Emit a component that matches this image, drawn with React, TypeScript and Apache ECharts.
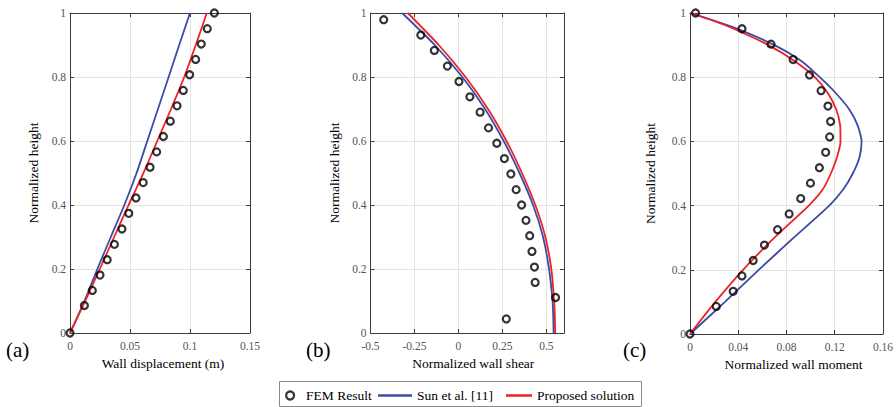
import React, { useEffect, useRef } from "react";
import * as echarts from "echarts";

// ---------- data ----------
// FEM node heights (normalized)
const femHeight = [0, 0.086, 0.133, 0.181, 0.229, 0.277, 0.325, 0.374, 0.422, 0.470, 0.518, 0.566, 0.614, 0.662, 0.710, 0.758, 0.807, 0.855, 0.903, 0.951, 1.0];
// (a) wall displacement (m)
const femDisp = [0, 0.0120, 0.0186, 0.025, 0.031, 0.037, 0.0433, 0.049, 0.055, 0.061, 0.0667, 0.0722, 0.0778, 0.0836, 0.0892, 0.0944, 0.0997, 0.1047, 0.1094, 0.1144, 0.1203];
const dispHeight = [0, 0.1, 0.2, 0.3, 0.4, 0.5, 0.6, 0.7, 0.8, 0.9, 1.0];
const sunDisp = [0, 0.0121, 0.0228, 0.034, 0.0453, 0.0555, 0.0644, 0.0733, 0.0822, 0.091, 0.100];
const propDisp = [0, 0.0126, 0.0248, 0.0368, 0.0488, 0.0612, 0.0727, 0.0842, 0.0952, 0.1048, 0.1140];

// (b) normalized wall shear (FEM at element mid-heights)
const femShearHeight = [0.044, 0.111, 0.158, 0.206, 0.255, 0.304, 0.352, 0.400, 0.448, 0.497, 0.545, 0.593, 0.641, 0.690, 0.738, 0.786, 0.834, 0.883, 0.931, 0.979];
const femShear = [0.272, 0.552, 0.436, 0.432, 0.418, 0.405, 0.384, 0.359, 0.328, 0.298, 0.261, 0.218, 0.171, 0.123, 0.065, 0.003, -0.063, -0.137, -0.214, -0.425];
const shearHeight = [0, 0.05, 0.1, 0.2, 0.3, 0.4, 0.5, 0.6, 0.7, 0.8, 0.9, 1.0];
const sunShear = [0.541, 0.539, 0.535, 0.515, 0.481, 0.424, 0.347, 0.257, 0.151, 0.022, -0.135, -0.320];
const propShear = [0.550, 0.548, 0.544, 0.528, 0.494, 0.437, 0.361, 0.273, 0.168, 0.040, -0.112, -0.288];

// (c) normalized wall moment
const femMoment = [0, 0.0218, 0.0358, 0.0431, 0.0524, 0.0617, 0.0726, 0.0822, 0.0918, 0.0999, 0.1073, 0.1125, 0.1158, 0.1166, 0.1144, 0.1087, 0.0991, 0.0855, 0.0672, 0.0431, 0.0046];
const momentHeight = [0, 0.1, 0.2, 0.3, 0.4, 0.45, 0.5, 0.55, 0.6, 0.65, 0.7, 0.75, 0.8, 0.85, 0.9, 0.95, 0.975, 1.0];
const sunMoment = [0, 0.029, 0.057, 0.086, 0.1155, 0.127, 0.135, 0.1405, 0.1423, 0.139, 0.132, 0.121, 0.1076, 0.0926, 0.070, 0.040, 0.021, 0];
const propMoment = [0, 0.021, 0.044, 0.070, 0.0985, 0.110, 0.1168, 0.1218, 0.1248, 0.1245, 0.1212, 0.1144, 0.1035, 0.087, 0.065, 0.0366, 0.020, 0];

const panelLabels = ["(a)", "(b)", "(c)"];
const xTitles = ["Wall displacement (m)", "Normalized wall shear", "Normalized wall moment"];
const yTitle = "Normalized height";
const legendNames = ["FEM Result", "Sun et al. [11]", "Proposed solution"];

const FONT = "Liberation Serif, serif";
const BLUE = "#3a4ca6";
const RED = "#ee2128";
const AXIS = "#3c3c3c";

const pairs = (xs: number[], ys: number[]) => xs.map((x, i) => [x, ys[i]]);

export default function App() {
  const ref = useRef<HTMLDivElement>(null);
  useEffect(() => {
    if (!ref.current) return;
    const chart = echarts.init(ref.current, null, { renderer: "svg" });

    const grids = [
      { left: 70, top: 13, width: 180, height: 320 },
      { left: 370.5, top: 13, width: 193.5, height: 320 },
      { left: 690, top: 13, width: 195.5, height: 321 },
    ];
    const xRanges = [
      { min: 0, max: 0.15, interval: 0.05 },
      { min: -0.5, max: 0.6, interval: 0.25 },
      { min: 0, max: 0.16, interval: 0.04 },
    ];
    const xTitleShift = [6, 12, 14];
    const yNameGap = [30, 29, 33];

    const tickCommon = { inside: true, length: 4, lineStyle: { color: AXIS, width: 1 } };
    const lineCommon = { show: true, onZero: false, lineStyle: { color: AXIS, width: 1 } };

    const xAxis: any[] = [];
    const yAxis: any[] = [];
    grids.forEach((g, i) => {
      xAxis.push({
        type: "value",
        gridIndex: i,
        position: "bottom",
        ...xRanges[i],
        axisLine: lineCommon,
        axisTick: tickCommon,
        splitLine: { show: true, lineStyle: { color: "#e4e4e4", width: 1 } },
        axisLabel: {
          color: "#555",
          fontFamily: FONT,
          fontSize: 11.5,
          margin: 7,
          showMaxLabel: i === 1 ? false : true,
        },
        name: xTitles[i],
        nameLocation: "middle",
        nameGap: 21,
        nameTextStyle: {
          color: "#000",
          fontFamily: FONT,
          fontSize: 13.5,
          padding: [0, 0, 0, xTitleShift[i]],
        },
      });
      yAxis.push({
        type: "value",
        gridIndex: i,
        position: "left",
        min: 0,
        max: 1,
        interval: 0.2,
        axisLine: lineCommon,
        axisTick: tickCommon,
        splitLine: { show: true, lineStyle: { color: "#e4e4e4", width: 1 } },
        axisLabel: { color: "#555", fontFamily: FONT, fontSize: 11.5, margin: 4 },
        name: yTitle,
        nameLocation: "middle",
        nameGap: yNameGap[i],
        nameTextStyle: { color: "#000", fontFamily: FONT, fontSize: 13.5 },
      });
    });
    grids.forEach((g, i) => {
      xAxis.push({
        type: "value",
        gridIndex: i,
        position: "top",
        ...xRanges[i],
        axisLine: lineCommon,
        axisTick: tickCommon,
        splitLine: { show: false },
        axisLabel: { show: false },
      });
      yAxis.push({
        type: "value",
        gridIndex: i,
        position: "right",
        min: 0,
        max: 1,
        interval: 0.2,
        axisLine: lineCommon,
        axisTick: tickCommon,
        splitLine: { show: false },
        axisLabel: { show: false },
      });
    });

    const femStyle = {
      symbol: "circle",
      symbolSize: 7,
      itemStyle: { color: "rgba(255,255,255,0)", borderColor: "#000", borderWidth: 2.2 },
    };
    const curve = (name: string, color: string, data: number[][], i: number) => ({
      type: "line",
      name,
      xAxisIndex: i,
      yAxisIndex: i,
      data,
      showSymbol: false,
      smooth: 0.2,
      lineStyle: { color, width: 1.8 },
      itemStyle: { color },
      z: 3,
    });

    const series: any[] = [
      { type: "scatter", name: legendNames[0], xAxisIndex: 0, yAxisIndex: 0, data: pairs(femDisp, femHeight), ...femStyle, z: 4 },
      curve(legendNames[1], BLUE, pairs(sunDisp, dispHeight), 0),
      curve(legendNames[2], RED, pairs(propDisp, dispHeight), 0),
      { type: "scatter", name: legendNames[0], xAxisIndex: 1, yAxisIndex: 1, data: pairs(femShear, femShearHeight), ...femStyle, z: 4 },
      curve(legendNames[1], BLUE, pairs(sunShear, shearHeight), 1),
      curve(legendNames[2], RED, pairs(propShear, shearHeight), 1),
      { type: "scatter", name: legendNames[0], xAxisIndex: 2, yAxisIndex: 2, data: pairs(femMoment, femHeight), ...femStyle, z: 4 },
      curve(legendNames[1], BLUE, pairs(sunMoment, momentHeight), 2),
      curve(legendNames[2], RED, pairs(propMoment, momentHeight), 2),
    ];

    const legendText = { color: "#000", fontFamily: FONT, fontSize: 13.5 };
    const legend = [
      {
        data: [legendNames[0]],
        left: 285,
        top: 388.5,
        padding: 0,
        itemWidth: 22,
        itemHeight: 8,
        icon: "circle",
        itemStyle: { color: "#fff", borderColor: "#000", borderWidth: 2.2 },
        textStyle: legendText,
        selectedMode: false,
      },
      {
        data: [legendNames[1]],
        left: 378,
        top: 388.5,
        padding: 0,
        itemWidth: 34,
        itemHeight: 2.5,
        icon: "rect",
        textStyle: legendText,
        selectedMode: false,
      },
      {
        data: [legendNames[2]],
        left: 506,
        top: 388.5,
        padding: 0,
        itemWidth: 26,
        itemHeight: 2.5,
        icon: "rect",
        textStyle: legendText,
        selectedMode: false,
      },
    ];

    const labelPos = [6, 306, 623];
    const graphic: any[] = [
      {
        type: "rect",
        shape: { x: 279.5, y: 381.5, width: 362, height: 25 },
        style: { fill: "none", stroke: "#8a8a8a", lineWidth: 1 },
        z: 1,
      },
      ...panelLabels.map((t, i) => ({
        type: "text",
        left: labelPos[i],
        top: 339,
        style: { text: t, fontFamily: FONT, fontSize: 21, fill: "#000" },
      })),
    ];

    chart.setOption({
      animation: false,
      backgroundColor: "#fff",
      grid: grids,
      xAxis,
      yAxis,
      series,
      legend,
      graphic,
    });
    return () => chart.dispose();
  }, []);

  return (
    <div
      ref={ref}
      style={{ position: "fixed", left: 0, top: 0, width: 896, height: 407 }}
    />
  );
}
